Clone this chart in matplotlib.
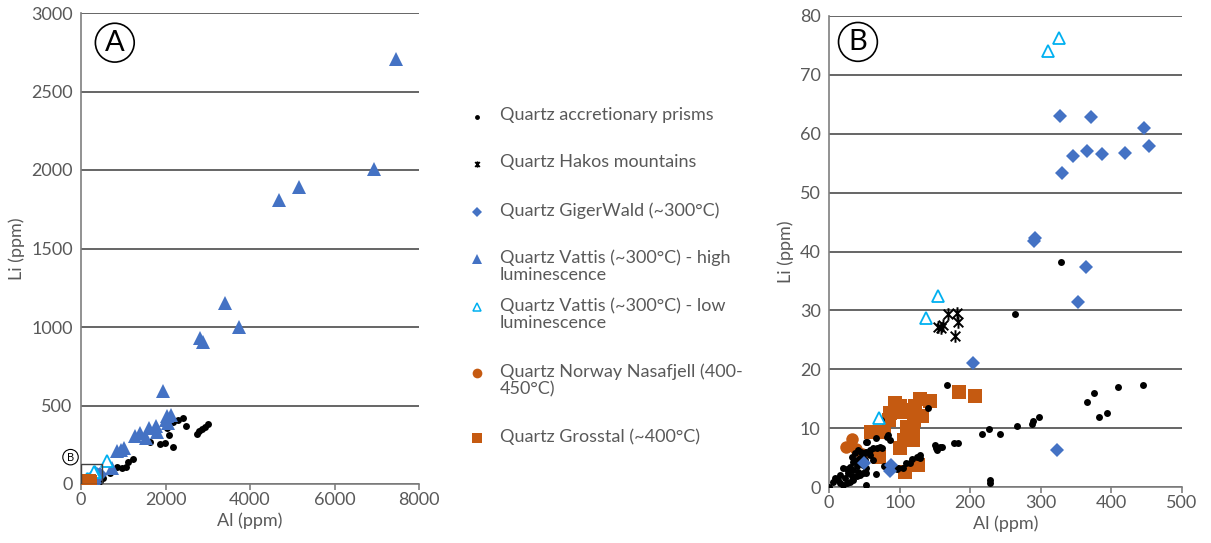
import matplotlib
matplotlib.use("Agg")
import matplotlib.pyplot as plt
from matplotlib.path import Path
from matplotlib.patches import Rectangle

plt.rcParams['font.family'] = ['Lato', 'DejaVu Sans']

# ---- data (Al ppm, Li ppm) ----
prism_al = [0, 6, 8.5, 13, 15.5, 20, 25, 30, 34, 39, 44, 48.5, 53, 22.6, 32, 41.5, 20, 25, 34.4, 15.5,
            34.4, 39, 44, 48.5, 53, 58, 62.7, 67.5, 72, 74.5, 32, 36.8, 41.5, 46, 53, 29.7, 44, 51, 58,
            39, 48.5, 27, 53, 62.7, 53,
            81.6, 86, 84, 79, 98, 105, 114.6, 124, 129, 140, 150, 157, 153, 166.5, 74, 67, 54,
            329, 264, 445, 410, 375, 366, 394, 383, 297.5, 289, 287, 266, 226, 216.6, 242.5,
            182.7, 177.5, 160, 152, 128.7, 117.7, 109.7, 228, 228, 96.5, 77.7, 66,
            2406, 2304, 2185, 2477, 3013, 2935, 2856, 2801, 2738, 2028, 2083, 1988, 1870, 2170,
            1633, 1239, 1120, 1065, 978, 860, 686, 529]
prism_li = [0, 0.9, 1.5, 1.2, 0.6, 0.3, 0.6, 0.9, 1.2, 1.8, 2.0, 2.3, 2.4, 1.5, 1.8, 2.6, 3.2, 3.0, 2.9, 2.0,
            4.3, 4.6, 4.9, 5.4, 6.0, 6.3, 6.6, 6.6, 6.8, 6.6, 5.1, 5.7, 6.3, 6.0, 7.7, 3.4, 4.0, 4.6, 5.4,
            3.5, 3.7, 2.3, 3.2, 4.6, 0.3,
            8.5, 8.0, 8.8, 3.6, 3.3, 3.2, 4.0, 5.1, 5.4, 13.4, 7.1, 6.8, 6.3, 17.3, 11.4, 8.4, 7.7,
            38.3, 29.3, 17.3, 17.0, 15.9, 14.5, 12.6, 11.9, 11.9, 11.2, 10.7, 10.4, 9.9, 9.0, 9.0,
            7.4, 7.4, 6.8, 6.7, 4.9, 4.7, 4.0, 1.2, 0.6, 3.1, 3.5, 2.2,
            421, 405, 398, 372, 383, 365, 350, 336, 321, 359, 314, 261, 252, 237,
            266, 159, 137, 111, 100, 111, 71, 40]

hakos_al = [155, 161, 168.5, 181, 183, 179, 158]
hakos_li = [27.2, 27.6, 29.3, 29.6, 28.0, 25.7, 27.0]

giger_al = [327, 371, 446, 453, 346, 366, 387, 419, 330, 292, 290, 364, 353, 204, 323, 88.5, 87, 50]
giger_li = [63.0, 62.9, 60.9, 57.9, 56.2, 57.0, 56.6, 56.7, 53.4, 42.3, 41.8, 37.4, 31.4, 21.1, 6.3, 3.8, 2.8, 4.0]

vhigh_al = [7448, 6943, 5168, 4695, 3409, 3748, 2817, 2896, 1949, 2028, 2122, 2004, 2067, 1775, 1617,
            1791, 1538, 1397, 1278, 1018, 844, 939, 726]
vhigh_li = [2708, 2004, 1893, 1811, 1151, 1001, 930, 903, 593, 432, 438, 410, 388, 370, 354,
            332, 294, 325, 305, 232, 210, 215, 100]

vlow_al = [326, 310, 154, 138, 71, 610]
vlow_li = [76.2, 74.1, 32.5, 28.7, 11.7, 148]

norway_al = [23.5, 32, 38, 47]
norway_li = [6.8, 8.1, 6.5, 5.6]

gross_al = [184, 207, 129.5, 142.6, 94, 100, 105, 87, 85, 103.5, 122, 132, 120, 110.6, 119, 119, 106,
            100, 59, 78, 71, 126, 108]
gross_li = [16.1, 15.5, 14.9, 14.6, 14.3, 13.75, 13.1, 12.6, 11.3, 12.7, 13.75, 12.1, 11.4, 10.2, 9.4,
            8.0, 8.0, 6.7, 9.4, 9.3, 5.1, 3.8, 2.5]

labels = ['Quartz accretionary prisms', 'Quartz Hakos mountains', 'Quartz GigerWald (~300°C)',
          'Quartz Vattis (~300°C) - high\nluminescence', 'Quartz Vattis (~300°C) - low\nluminescence',
          'Quartz Norway Nasafjell (400-\n450°C)', 'Quartz Grosstal (~400°C)']

BLUE = '#4472C4'
ORANGE = '#C55A11'
LBLUE = '#00B0F0'
GRID = '#595959'
TXT = '#595959'

star = Path([(-1, -1), (1, 1), (-1, 1), (1, -1), (0, -1.3), (0, 1.3)],
            [Path.MOVETO, Path.LINETO, Path.MOVETO, Path.LINETO, Path.MOVETO, Path.LINETO])

fig = plt.figure(figsize=(12.11, 5.43), dpi=100)
axA = fig.add_axes([81/1211, 1-484/543, 338/1211, 471/543])
axB = fig.add_axes([829/1211, 1-487/543, 353/1211, 471/543])


def draw(ax, orange_z):
    ax.plot(prism_al, prism_li, 'o', color='black', ms=5, mew=0, zorder=3)
    ax.plot(hakos_al, hakos_li, ls='none', marker=star, color='black', ms=9, mew=1.4, zorder=3)
    ax.plot(giger_al, giger_li, 'D', color=BLUE, ms=7, mew=0, zorder=3)
    ax.plot(vhigh_al, vhigh_li, '^', color=BLUE, ms=10, mew=0, zorder=3)
    ax.plot(vlow_al, vlow_li, '^', mfc='white', mec=LBLUE, ms=8, mew=1.3, zorder=3)
    ax.plot(norway_al, norway_li, 'o', color=ORANGE, ms=9, mew=0, zorder=orange_z)
    ax.plot(gross_al, gross_li, 's', color=ORANGE, ms=10, mew=0, zorder=orange_z)
    for s in ['top', 'right']:
        ax.spines[s].set_visible(False)
    for s in ['left', 'bottom']:
        ax.spines[s].set_color('#7f7f7f')
        ax.spines[s].set_linewidth(1.2)
    ax.yaxis.grid(True, color=GRID, lw=1.3)
    ax.set_axisbelow(True)
    ax.tick_params(axis='y', length=0, pad=6, labelsize=13, labelcolor=TXT)
    ax.tick_params(axis='x', length=4, color='#7f7f7f', width=1.2, pad=2, labelsize=13, labelcolor=TXT)
    ax.set_xlabel('Al (ppm)', fontsize=13, color=TXT, labelpad=3)
    ax.set_ylabel('Li (ppm)', fontsize=13, color=TXT, labelpad=4)


draw(axA, 3.5)
axA.set_xlim(0, 8000)
axA.set_ylim(0, 3000)
axA.set_xticks(range(0, 8001, 2000))
axA.set_yticks(range(0, 3001, 500))
axA.add_patch(Rectangle((0, 0), 500, 130, fill=False, ec='#404040', lw=1.0, zorder=4))
axA.text(0.10, 0.937, 'A', transform=axA.transAxes, ha='center', va='center', fontsize=21,
         bbox=dict(boxstyle='circle,pad=0.22', fc='white', ec='black', lw=1.2))
axA.text(-0.031, 0.057, 'B', transform=axA.transAxes, ha='center', va='center', fontsize=8,
         clip_on=False, bbox=dict(boxstyle='circle,pad=0.2', fc='white', ec='black', lw=0.8))

draw(axB, 2)
axB.set_xlim(0, 500)
axB.set_ylim(0, 80)
axB.set_xticks(range(0, 501, 100))
axB.set_yticks(range(0, 81, 10))
axB.text(0.082, 0.945, 'B', transform=axB.transAxes, ha='center', va='center', fontsize=21,
         bbox=dict(boxstyle='circle,pad=0.22', fc='white', ec='black', lw=1.2))

# ---- legend, drawn by hand between the panels ----
leg = fig.add_axes([0, 0, 1, 1], facecolor='none')
leg.set_xlim(0, 1211)
leg.set_ylim(543, 0)
leg.axis('off')
leg_y = [117, 164, 212, 259, 307, 373, 438]
leg_style = [dict(marker='o', color='black', ms=3.5, mew=0),
             dict(marker=star, color='black', ms=4.5, mew=1.2),
             dict(marker='D', color=BLUE, ms=5, mew=0),
             dict(marker='^', color=BLUE, ms=7, mew=0),
             dict(marker='^', mfc='white', mec=LBLUE, ms=6, mew=1.1),
             dict(marker='o', color=ORANGE, ms=7, mew=0),
             dict(marker='s', color=ORANGE, ms=7, mew=0)]
for y, st, lab in zip(leg_y, leg_style, labels):
    leg.plot([477], [y], ls='none', **st)
    leg.text(500, y - 10, lab, fontsize=13, color=TXT, va='top', ha='left', linespacing=1.12)

fig.savefig('out.png', dpi=100)
